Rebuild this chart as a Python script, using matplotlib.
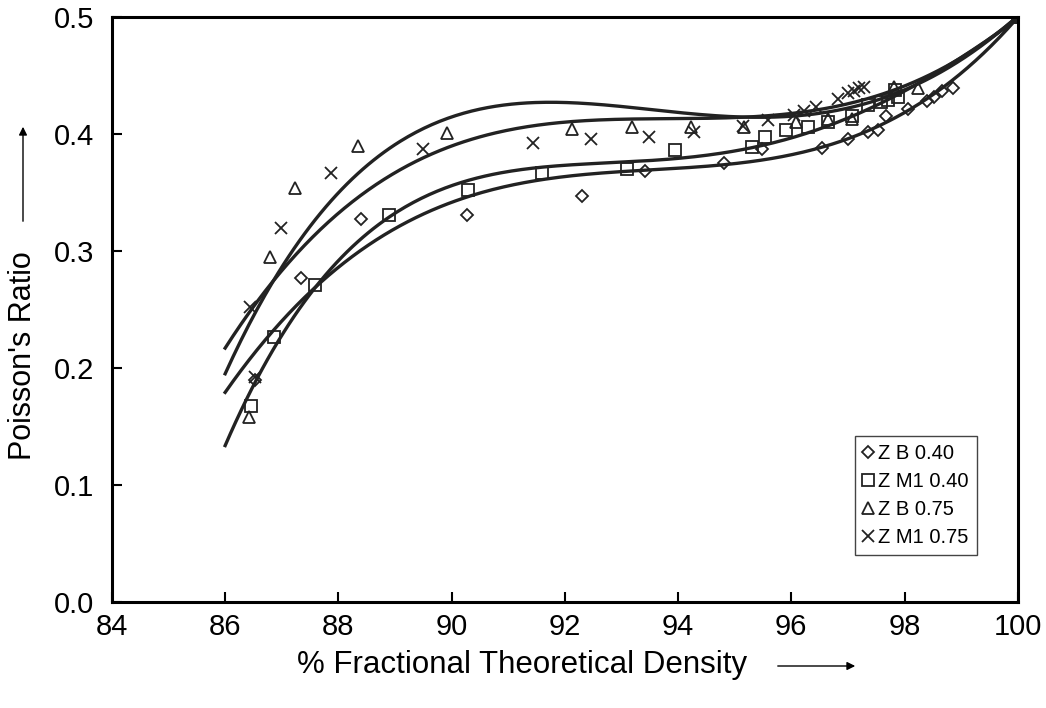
import matplotlib.pyplot as plt
import numpy as np

plt.rcParams['font.family'] = ['Liberation Sans', 'DejaVu Sans']

# Z B 0.40 (diamonds)
zb40_x = [86.53, 87.34, 88.40, 90.28, 92.31, 93.42, 94.82, 95.49, 96.55, 97.00, 97.35,
          97.54, 97.68, 98.07, 98.39, 98.52, 98.67, 98.85, 100.0]
zb40_y = [0.190, 0.277, 0.327, 0.331, 0.347, 0.368, 0.375, 0.387, 0.388, 0.396, 0.402,
          0.403, 0.415, 0.421, 0.428, 0.432, 0.437, 0.439, 0.500]

# Z M1 0.40 (squares)
zm40_x = [86.46, 86.87, 87.59, 88.90, 90.29, 91.60, 93.10, 93.94, 95.30, 95.53, 95.90,
          96.30, 96.64, 97.08, 97.35, 97.58, 97.70, 97.84, 97.88, 100.0]
zm40_y = [0.167, 0.226, 0.271, 0.331, 0.352, 0.367, 0.370, 0.386, 0.389, 0.397, 0.403,
          0.406, 0.410, 0.415, 0.425, 0.427, 0.429, 0.438, 0.432, 0.500]

# Z B 0.75 (triangles)
zb75_x = [86.42, 86.79, 87.24, 88.35, 89.92, 92.13, 93.18, 94.22, 95.16, 96.08, 96.64,
          97.08, 97.81, 98.23, 100.0]
zb75_y = [0.158, 0.295, 0.354, 0.390, 0.401, 0.404, 0.406, 0.406, 0.406, 0.410, 0.413,
          0.413, 0.440, 0.439, 0.500]

# Z M1 0.75 (crosses)
zm75_x = [86.44, 86.53, 86.99, 87.87, 89.50, 91.44, 92.47, 93.49, 94.29, 95.14, 95.58,
          96.04, 96.22, 96.43, 96.82, 97.01, 97.10, 97.19, 97.28, 100.0]
zm75_y = [0.252, 0.192, 0.320, 0.367, 0.387, 0.392, 0.396, 0.397, 0.402, 0.407, 0.412,
          0.416, 0.420, 0.423, 0.430, 0.435, 0.437, 0.439, 0.440, 0.500]

# trendline values at these densities
trend_x = [86, 88, 90, 92, 94, 96, 98, 100]
trend_zb40 = [0.179, 0.286, 0.342, 0.363, 0.370, 0.384, 0.417, 0.500]
trend_zm40 = [0.132, 0.297, 0.351, 0.372, 0.380, 0.402, 0.431, 0.500]
trend_zb75 = [0.196, 0.346, 0.418, 0.428, 0.416, 0.414, 0.440, 0.500]
trend_zm75 = [0.218, 0.328, 0.395, 0.409, 0.411, 0.418, 0.442, 0.500]

series = [
    (zb40_x, zb40_y, trend_zb40, 'D', 'Z B 0.40', 6.5),
    (zm40_x, zm40_y, trend_zm40, 's', 'Z M1 0.40', 9),
    (zb75_x, zb75_y, trend_zb75, '^', 'Z B 0.75', 9),
    (zm75_x, zm75_y, trend_zm75, 'x', 'Z M1 0.75', 9),
]

fig = plt.figure(figsize=(10.46, 7.08), dpi=100)
ax = fig.add_axes([0.107, 0.150, 0.866, 0.826])

xs = np.linspace(86, 100, 300)
for x, y, ty, m, lab, ms in series:
    ax.plot(x, y, linestyle='none', marker=m, markersize=ms, markerfacecolor='none',
            markeredgecolor='#222222', markeredgewidth=1.3, label=lab)
    # smooth polynomial trendline
    c = np.polyfit(trend_x, ty, 4)
    ax.plot(xs, np.polyval(c, xs), color='#222222', lw=2.4)

ax.set_xlim(84, 100)
ax.set_ylim(0, 0.5)
ax.set_xticks(np.arange(84, 101, 2))
ax.set_yticks(np.arange(0, 0.51, 0.1))
ax.yaxis.set_major_formatter(plt.FormatStrFormatter('%.1f'))
ax.tick_params(direction='in', length=7, width=1.5, labelsize=21)
ax.tick_params(axis='x', pad=8)
ax.tick_params(axis='y', pad=13)
for s in ax.spines.values():
    s.set_linewidth(2.2)

# axis titles with arrows
fig.text(522, 43, '% Fractional Theoretical Density', fontsize=22.5, ha='center', va='center',
         transform=None)
fig.text(23, 352, "Poisson's Ratio", fontsize=22, ha='center', va='center', rotation=90,
         transform=None)
ax.annotate('', xy=(858, 42), xytext=(775, 42), xycoords='figure pixels',
            arrowprops=dict(arrowstyle='-|>', color='black', lw=1, mutation_scale=12))
ax.annotate('', xy=(23, 584), xytext=(23, 484), xycoords='figure pixels',
            arrowprops=dict(arrowstyle='-|>', color='black', lw=1, mutation_scale=12))

leg = ax.legend(loc='lower right', bbox_to_anchor=(0.955, 0.08), fontsize=14.5,
                handlelength=0.5, handletextpad=0.25, borderpad=0.4, labelspacing=0.45,
                borderaxespad=0, markerscale=0.9,
                fancybox=False, edgecolor='#444444', framealpha=1)
leg.get_frame().set_linewidth(1)

fig.savefig('out.png', dpi=100)
